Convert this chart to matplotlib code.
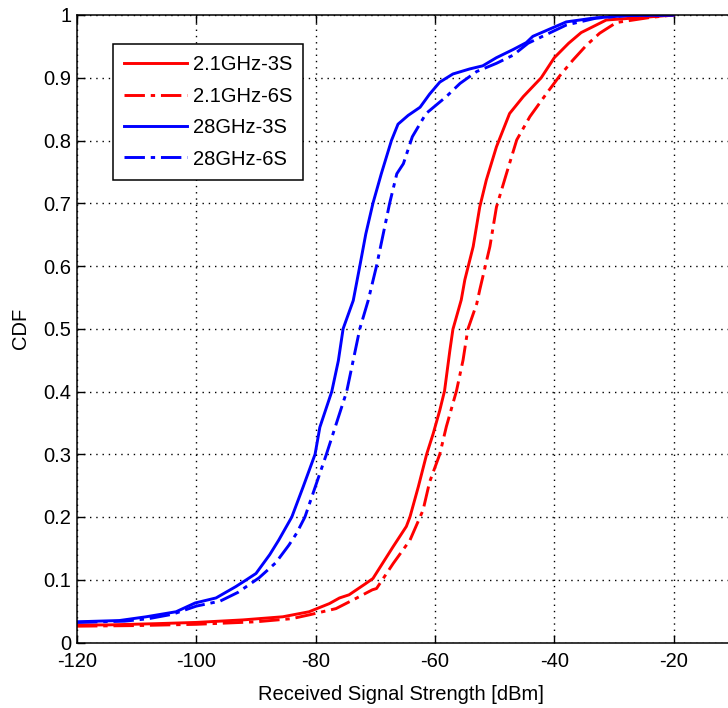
import numpy as np
import matplotlib
matplotlib.use('Agg')
import matplotlib.pyplot as plt

# CDF curves (x in dBm, y = CDF)
r3_x = [-120, -115, -106.8, -100, -92.2, -85.5, -81.1, -77.7, -76, -74.4, -71.6, -70.4, -67, -64.8,
        -64.2, -62.8, -61.4, -60.3, -59.2, -58.4, -57.5, -57, -55.6, -55, -53.6, -52.5, -51.4, -49.7,
        -47.5, -45.2, -42.2, -40.0, -37.6, -35.5, -31.3, -24, -20]
r3_y = [0.028, 0.028, 0.030, 0.032, 0.036, 0.041, 0.049, 0.062, 0.071, 0.076, 0.094, 0.102, 0.153, 0.185,
        0.200, 0.248, 0.300, 0.333, 0.370, 0.401, 0.466, 0.499, 0.546, 0.578, 0.631, 0.694, 0.737, 0.790,
        0.843, 0.870, 0.900, 0.932, 0.955, 0.972, 0.992, 0.997, 1.0]

r6_x = [-120, -110, -100, -90, -84, -81.1, -76.6, -73.3, -70.5, -69.8, -67, -64.2, -62, -60.9, -59.2,
        -58.1, -56.4, -55.3, -54.5, -53.0, -52.5, -50.8, -49.7, -48, -46.3, -44.1, -41.3, -39.1, -36.9,
        -34.6, -32.4, -29.6, -24, -20]
r6_y = [0.026, 0.027, 0.029, 0.033, 0.038, 0.044, 0.054, 0.070, 0.084, 0.086, 0.126, 0.163, 0.211, 0.256, 0.300,
        0.344, 0.401, 0.450, 0.499, 0.540, 0.562, 0.631, 0.694, 0.748, 0.801, 0.838, 0.875, 0.903, 0.928,
        0.952, 0.971, 0.988, 0.996, 1.0]

b3_x = [-120, -112.9, -108.4, -103.4, -100.2, -96.7, -93.4, -91.6, -90, -87.7, -86.2, -84.0, -82.1, -80.1,
        -79.3, -77.3, -76.2, -75.4, -73.7, -72.6, -71.6, -70.4, -69.0, -67.3, -66.2, -64.5, -62.5, -60.9,
        -59.2, -57.0, -54.2, -52.0, -49.7, -46.9, -44.7, -43.6, -38.0, -33.5, -28, -20]
b3_y = [0.033, 0.035, 0.041, 0.049, 0.063, 0.071, 0.089, 0.100, 0.110, 0.140, 0.163, 0.200, 0.248, 0.300,
        0.343, 0.400, 0.449, 0.500, 0.545, 0.600, 0.651, 0.700, 0.747, 0.800, 0.826, 0.840, 0.853, 0.874,
        0.893, 0.906, 0.914, 0.919, 0.932, 0.945, 0.956, 0.966, 0.989, 0.995, 0.999, 1.0]

b6_x = [-120, -112, -108, -104, -100, -96, -93, -89.5, -86.7, -84.5, -83.2, -81.8, -80, -78.2, -76.5, -74.8,
        -72.6, -71.2, -69.8, -67.6, -66.4, -65.3, -63.8, -61.5, -58.1, -55.8, -53.0, -49.7, -46.9, -44.4,
        -38.0, -33, -28, -20]
b6_y = [0.032, 0.034, 0.038, 0.045, 0.058, 0.066, 0.080, 0.103, 0.127, 0.155, 0.174, 0.200, 0.250, 0.300, 0.350, 0.400,
        0.500, 0.545, 0.600, 0.700, 0.747, 0.763, 0.806, 0.843, 0.870, 0.891, 0.910, 0.923, 0.936, 0.955,
        0.984, 0.995, 0.999, 1.0]

labels = ['2.1GHz-3S', '2.1GHz-6S', '28GHz-3S', '28GHz-6S']
xticks = [-120, -100, -80, -60, -40, -20]
yticks = np.round(np.arange(0, 1.01, 0.1), 1)
ytick_labels = ['0'] + ['%.1f' % v for v in yticks[1:-1]] + ['1']

plt.rcParams['font.family'] = ['Liberation Sans', 'DejaVu Sans']
fs = 14.5

fig = plt.figure(figsize=(7.28, 7.08), dpi=100)
# axes runs past the right edge of the picture, as in the cropped original
ax = fig.add_axes([77/728., (708-642.5)/708., 716/728., 627.5/708.])

dashdot = (0, (7, 2, 1.5, 2))
ax.plot(r3_x, r3_y, color='red', lw=2.1, ls='-', label=labels[0])
ax.plot(r6_x, r6_y, color='red', lw=2.1, ls=dashdot, label=labels[1])
ax.plot(b3_x, b3_y, color='blue', lw=2.1, ls='-', label=labels[2])
ax.plot(b6_x, b6_y, color='blue', lw=2.1, ls=dashdot, label=labels[3])

ax.set_xlim(-120, 0)
ax.set_ylim(0, 1)
ax.set_xticks(xticks)
ax.set_xticklabels([str(v) for v in xticks])
ax.set_yticks(yticks)
ax.set_yticklabels(ytick_labels)
ax.tick_params(direction='in', length=6, width=1, top=True, right=True, labelsize=fs)
ax.tick_params(axis='x', pad=7)
ax.tick_params(axis='y', pad=4)
ax.grid(True, color='black', lw=1.0, ls=(0, (1, 3.5)))
for s in ax.spines.values():
    s.set_linewidth(1.1)

ax.set_xlabel('Received Signal Strength [dBm]', fontsize=fs)
ax.set_ylabel('CDF', fontsize=fs)
ax.xaxis.set_label_coords(0.4525, -0.068)
ax.yaxis.set_label_coords(-0.066, 0.5)

leg = ax.legend(loc='upper left', bbox_to_anchor=(36/716., 1-29/627.5), borderaxespad=0,
                fontsize=fs, handlelength=3.1, handletextpad=0.3, labelspacing=0.62,
                borderpad=0.55, fancybox=False, framealpha=1, edgecolor='black')
leg.get_frame().set_linewidth(1.1)

plt.savefig('out.png', dpi=100)
